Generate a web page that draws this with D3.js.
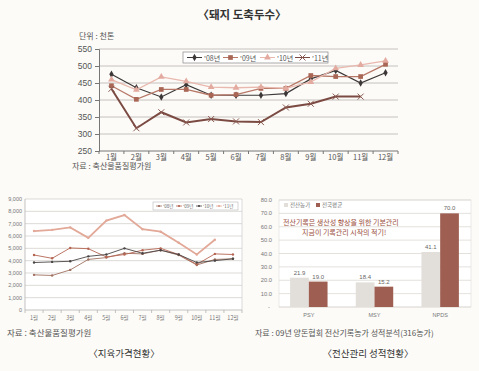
<!DOCTYPE html>
<html><head><meta charset="utf-8">
<script src="https://cdn.jsdelivr.net/npm/d3@7/dist/d3.min.js"></script>
<style>
html,body{margin:0;padding:0;background:#fcfbf7;}
svg{display:block;font-family:"Noto Sans CJK KR","Noto Sans",sans-serif;}
</style></head>
<body><svg id="c" width="479" height="371"></svg>
<script>
// ---------- Data ----------
const months = ["1월","2월","3월","4월","5월","6월","7월","8월","9월","10월","11월","12월"];
// Top chart: 돼지 도축두수 (천톤)
const slaughterYears = ["'08년","'09년","'10년","'11년"];
const slaughter08 = [476,436,409,445,414,414,414,419,462,487,450,480];
const slaughter09 = [442,402,431,431,414,416,434,434,472,469,469,505];
const slaughter10 = [460,430,468,455,438,436,438,434,453,493,503,515];
const slaughter11 = [433,317,364,334,344,337,335,378,389,410,410];
const slaughterTicks = [250,300,350,400,450,500,550];
// Bottom-left: 지육가격현황
const priceYears = ["'08년","'09년","'10년","'11년"];
const price08 = [2850,2800,3250,4100,4250,4600,4550,4850,4450,3650,4100,4150];
const price09 = [4460,4190,5030,4970,4300,4500,4850,5000,4500,3700,4550,4500];
const price10 = [3850,3900,3950,4350,4500,5000,4600,4850,4500,3850,4000,4150];
const price11 = [6400,6500,6700,5850,7250,7700,6550,6350,5450,4500,5700];
const priceTicks = [0,1000,2000,3000,4000,5000,6000,7000,8000,9000];
// Bottom-right: 전산관리 성적현황
const perfCats = ["PSY","MSY","NPDS"];
const perfSeries = ["전산농가","전국평균"];
const perfFarm = [21.9,18.4,41.1];
const perfNation = [19.0,15.2,70.0];
const perfTicks = [0,10,20,30,40,50,60,70,80];

const svg = d3.select("#c");

// ---------- Top chart ----------
(function(){
  const g = svg.append("g");
  const x = d3.scaleBand().domain(months).range([99,398]);
  const y = d3.scaleLinear().domain([250,550]).range([151,49]);
  const cx = m => x(m) + x.bandwidth()/2;

  g.append("text").attr("x",242).attr("y",19).attr("text-anchor","middle")
    .attr("font-size",11.5).attr("font-weight","bold").attr("fill","#333").text("〈돼지 도축두수〉");
  g.append("text").attr("x",79).attr("y",39).attr("font-size",8).attr("fill","#555").text("단위 : 천톤");

  // grid
  g.selectAll(".gl").data(slaughterTicks.slice(1)).join("line")
    .attr("x1",99).attr("x2",398).attr("y1",d=>y(d)).attr("y2",d=>y(d))
    .attr("stroke","#b8b4b0").attr("stroke-width",0.8);
  const ya = d3.axisLeft(y).tickValues(slaughterTicks).tickSize(4).tickFormat(d3.format("d"));
  const yg = g.append("g").attr("transform","translate(99,0)").call(ya);
  yg.select(".domain").attr("stroke","#777");
  yg.selectAll(".tick line").attr("stroke","#777");
  yg.selectAll("text").attr("font-size",8.5).attr("fill","#555").attr("font-family","Liberation Sans, Arial, sans-serif");
  // x axis
  const xg = g.append("g").attr("transform","translate(0,151)");
  xg.append("line").attr("x1",99).attr("x2",398).attr("stroke","#777");
  const bounds = months.map(m=>x(m)).concat([398]);
  xg.selectAll(".tk").data(bounds).join("line").attr("x1",d=>d).attr("x2",d=>d).attr("y1",0).attr("y2",3).attr("stroke","#777");
  xg.selectAll(".lb").data(months).join("text").attr("x",d=>cx(d)).attr("y",8.5).attr("text-anchor","middle")
    .attr("font-size",7.5).attr("fill","#555").text(d=>d);

  const series = [
    {vals:slaughter08, color:"#3d3838", w:1.2, mk:"diamond", mc:"#3d3838"},
    {vals:slaughter09, color:"#b87868", w:1.3, mk:"square", mc:"#a96655"},
    {vals:slaughter10, color:"#e9b8ae", w:1.3, mk:"triangle", mc:"#e3aaa0"},
    {vals:slaughter11, color:"#7b4a42", w:2, mk:"x", mc:"#8a5a52"}
  ];
  const line = d3.line().x((d,i)=>cx(months[i])).y(d=>y(d));
  function marker(sel, type, c){
    if(type==="x"){
      sel.append("path").attr("d","M-3,-3L3,3M-3,3L3,-3").attr("stroke",c).attr("stroke-width",1).attr("fill","none");
    } else {
      const sym = type==="diamond"?d3.symbolDiamond:type==="square"?d3.symbolSquare:d3.symbolTriangle;
      const sz = type==="square"?22:type==="diamond"?16:20;
      sel.append("path").attr("d",d3.symbol().type(sym).size(sz)()).attr("fill",c);
    }
  }
  series.forEach(s=>{
    g.append("path").attr("d",line(s.vals)).attr("fill","none").attr("stroke",s.color).attr("stroke-width",s.w);
    s.vals.forEach((v,i)=>{
      const mg = g.append("g").attr("transform",`translate(${cx(months[i])},${y(v)})`);
      marker(mg,s.mk,s.mc);
    });
  });
  // legend
  const lg = g.append("g");
  lg.append("rect").attr("x",183).attr("y",52).attr("width",145).attr("height",11).attr("fill","#fff").attr("stroke","#888").attr("stroke-width",0.7);
  const lx = [187,223,260,295];
  series.forEach((s,i)=>{
    lg.append("line").attr("x1",lx[i]).attr("x2",lx[i]+15).attr("y1",57.5).attr("y2",57.5).attr("stroke",s.color).attr("stroke-width",1);
    const mg = lg.append("g").attr("transform",`translate(${lx[i]+7.5},57.5)`);
    marker(mg,s.mk,s.mc);
    lg.append("text").attr("x",lx[i]+17).attr("y",60.5).attr("font-size",7).attr("fill","#555").text(slaughterYears[i]);
  });
  g.append("text").attr("x",72).attr("y",169).attr("font-size",8).attr("fill","#555").text("자료 : 축산물품질평가원");
})();

// ---------- Bottom-left chart ----------
(function(){
  const g = svg.append("g");
  const x = d3.scaleBand().domain(months).range([25,242]);
  const y = d3.scaleLinear().domain([0,9000]).range([310,199]);
  const cx = m => x(m) + x.bandwidth()/2;
  g.append("rect").attr("x",25).attr("y",199).attr("width",217).attr("height",111).attr("fill","#fff");
  g.selectAll(".gl").data(priceTicks.slice(1)).join("line")
    .attr("x1",25).attr("x2",242).attr("y1",d=>y(d)).attr("y2",d=>y(d)).attr("stroke","#cfcbc6").attr("stroke-width",0.7);
  g.append("line").attr("x1",25).attr("x2",25).attr("y1",199).attr("y2",310).attr("stroke","#aaa").attr("stroke-width",0.7);
  g.append("line").attr("x1",242).attr("x2",242).attr("y1",199).attr("y2",310).attr("stroke","#ccc").attr("stroke-width",0.7);
  g.append("line").attr("x1",25).attr("x2",242).attr("y1",310).attr("y2",310).attr("stroke","#aaa").attr("stroke-width",0.7);
  const bounds = months.map(m=>x(m)).concat([242]);
  g.selectAll(".tk").data(bounds).join("line").attr("x1",d=>d).attr("x2",d=>d).attr("y1",310).attr("y2",313).attr("stroke","#aaa").attr("stroke-width",0.7);
  g.selectAll(".yl").data(priceTicks).join("text").attr("x",22).attr("y",d=>y(d)+2).attr("text-anchor","end")
    .attr("font-size",5.5).attr("fill","#777").attr("font-family","Liberation Sans, Arial, sans-serif").text(d=>d===0?"0":d3.format(",")(d));
  g.selectAll(".xl").data(months).join("text").attr("x",d=>cx(d)).attr("y",320).attr("text-anchor","middle")
    .attr("font-size",5.5).attr("fill","#777").text(d=>d);
  const series = [
    {vals:price08, color:"#a07060", w:0.9},
    {vals:price09, color:"#b56552", w:0.9},
    {vals:price10, color:"#4a4545", w:0.9},
    {vals:price11, color:"#e2a898", w:1.8}
  ];
  const line = d3.line().x((d,i)=>cx(months[i])).y(d=>y(d));
  series.forEach(s=>{
    g.append("path").attr("d",line(s.vals)).attr("fill","none").attr("stroke",s.color).attr("stroke-width",s.w);
    g.selectAll(null).data(s.vals).join("circle").attr("cx",(d,i)=>cx(months[i])).attr("cy",d=>y(d)).attr("r",1.2).attr("fill",s.color);
  });
  // legend
  g.append("rect").attr("x",153).attr("y",202).attr("width",85).attr("height",8).attr("fill","#fff").attr("stroke","#aaa").attr("stroke-width",0.5);
  const lx = [156,176,196,216];
  series.forEach((s,i)=>{
    g.append("line").attr("x1",lx[i]).attr("x2",lx[i]+6).attr("y1",206).attr("y2",206).attr("stroke",s.color).attr("stroke-width",0.8);
    g.append("circle").attr("cx",lx[i]+3).attr("cy",206).attr("r",1.1).attr("fill",s.color);
    g.append("text").attr("x",lx[i]+7).attr("y",208).attr("font-size",4.5).attr("fill","#666").text(priceYears[i]);
  });
  g.append("text").attr("x",7).attr("y",336).attr("font-size",8.5).attr("fill","#555").text("자료 : 축산물품질평가원");
  g.append("text").attr("x",124).attr("y",357).attr("text-anchor","middle").attr("font-size",9.5).attr("fill","#333").text("〈지육가격현황〉");
})();

// ---------- Bottom-right bar chart ----------
(function(){
  const g = svg.append("g");
  const x = d3.scaleBand().domain(perfCats).range([276,473]).paddingInner(0.43).paddingOuter(0.215);
  const xs = d3.scaleBand().domain(perfSeries).range([0,x.bandwidth()]);
  const y = d3.scaleLinear().domain([0,80]).range([307,200]);
  g.append("rect").attr("x",279).attr("y",200).attr("width",192).attr("height",107).attr("fill","#fff").attr("stroke","#ddd").attr("stroke-width",0.6);
  g.selectAll(".gl").data(perfTicks).join("line")
    .attr("x1",279).attr("x2",471).attr("y1",d=>y(d)).attr("y2",d=>y(d)).attr("stroke","#d8d4cf").attr("stroke-width",0.7);
  g.selectAll(".yl").data(perfTicks).join("text").attr("x",d=>d===0?270:272).attr("y",d=>y(d)+2).attr("text-anchor","end")
    .attr("font-size",5.8).attr("fill","#777").attr("font-family","Liberation Sans, Arial, sans-serif").text(d=>d===0?"-":d3.format(".1f")(d));
  const colors = ["#e2dfda","#9e5f52"];
  const data = perfCats.map((c,i)=>({c, vals:[perfFarm[i],perfNation[i]]}));
  data.forEach(d=>{
    d.vals.forEach((v,j)=>{
      g.append("rect").attr("x",x(d.c)+xs(perfSeries[j])).attr("y",y(v)).attr("width",xs.bandwidth()).attr("height",y(0)-y(v)).attr("fill",colors[j]);
      g.append("text").attr("x",x(d.c)+xs(perfSeries[j])+xs.bandwidth()/2).attr("y",y(v)-3).attr("text-anchor","middle")
        .attr("font-size",6).attr("fill","#666").attr("font-family","Liberation Sans, Arial, sans-serif").text(d3.format(".1f")(v));
    });
  });
  g.selectAll(".xl").data(perfCats).join("text").attr("x",d=>x(d)+x.bandwidth()/2).attr("y",317).attr("text-anchor","middle")
    .attr("font-size",5.5).attr("fill","#777").attr("font-family","Liberation Sans, Arial, sans-serif").text(d=>d);
  // legend
  g.append("rect").attr("x",284).attr("y",203).attr("width",4).attr("height",4).attr("fill",colors[0]);
  g.append("text").attr("x",290).attr("y",207).attr("font-size",5.5).attr("fill","#777").text(perfSeries[0]);
  g.append("rect").attr("x",316).attr("y",203).attr("width",4).attr("height",4).attr("fill",colors[1]);
  g.append("text").attr("x",322).attr("y",207).attr("font-size",5.5).attr("fill","#777").text(perfSeries[1]);
  // annotation
  g.append("text").attr("x",283).attr("y",225).attr("font-size",7).attr("fill","#9a4e3e").text("전산기록은 생산성 향상을 위한 기본관리");
  g.append("text").attr("x",302).attr("y",235).attr("font-size",7).attr("fill","#9a4e3e").text("지금이 기록관리 시작의 적기!");
  g.append("text").attr("x",255).attr("y",336).attr("font-size",8).attr("fill","#555").text("자료 : 09년 양돈협회 전산기록농가 성적분석(316농가)");
  g.append("text").attr("x",368).attr("y",357).attr("text-anchor","middle").attr("font-size",9.5).attr("fill","#333").text("〈전산관리 성적현황〉");
})();
</script></body></html>
